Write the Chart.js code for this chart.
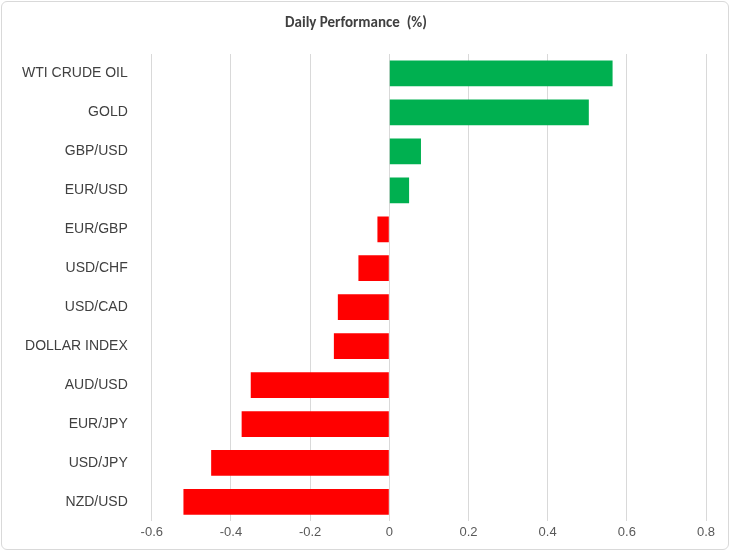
<!DOCTYPE html>
<html>
<head>
<script src="https://cdn.jsdelivr.net/npm/chart.js@4/dist/chart.umd.min.js"></script>
<style>
  body { margin: 0; background: #fff; }
  #wrap { position: absolute; left: 1px; top: 1px; width: 726px; height: 547px; border: 1px solid #d9d9d9; border-radius: 6px; }
</style>
</head>
<body>
<div id="wrap"><canvas id="chart" width="726" height="547"></canvas></div>
<script>
const categories = ['WTI CRUDE OIL', 'GOLD', 'GBP/USD', 'EUR/USD', 'EUR/GBP', 'USD/CHF', 'USD/CAD', 'DOLLAR INDEX', 'AUD/USD', 'EUR/JPY', 'USD/JPY', 'NZD/USD']
const values = [0.564, 0.504, 0.08, 0.05, -0.03, -0.078, -0.13, -0.14, -0.35, -0.373, -0.45, -0.52]
const tickMin = -0.6
const tickMax = 0.8

var ctx = document.getElementById('chart').getContext('2d')
var chart = new Chart(ctx, {
    type: 'bar',
    data: {
        labels: categories,
        datasets: [{
            data: values,
            backgroundColor: values.map(v => v >= 0 ? '#00b050' : '#ff0000'),
            barPercentage: 0.66,
            categoryPercentage: 1
        }]
    },
    options: {
        indexAxis: 'y',
        responsive: false,
        animation: false,
        layout: { padding: { left: 4, right: 22, top: 4, bottom: 6 } },
        plugins: {
            legend: { display: false },
            tooltip: { enabled: false },
            title: {
                display: true,
                text: 'Daily Performance  (%)',
                color: '#404040',
                font: { family: 'Calibri, Carlito, "Liberation Sans", sans-serif', size: 15, weight: 'bold' },
                padding: { top: 8, bottom: 22 }
            }
        },
        scales: {
            x: {
                min: tickMin,
                max: tickMax,
                ticks: {
                    stepSize: 0.2,
                    color: '#595959',
                    font: { family: '"Liberation Sans", sans-serif', size: 13 },
                    callback: v => Math.round(v * 10) / 10
                },
                grid: { color: '#d9d9d9', drawTicks: false },
                border: { display: false }
            },
            y: {
                ticks: {
                    color: '#404040',
                    font: { family: '"Liberation Sans", sans-serif', size: 14 },
                    padding: 16
                },
                grid: { display: false },
                border: { display: false }
            }
        }
    }
})
</script>
</body>
</html>
